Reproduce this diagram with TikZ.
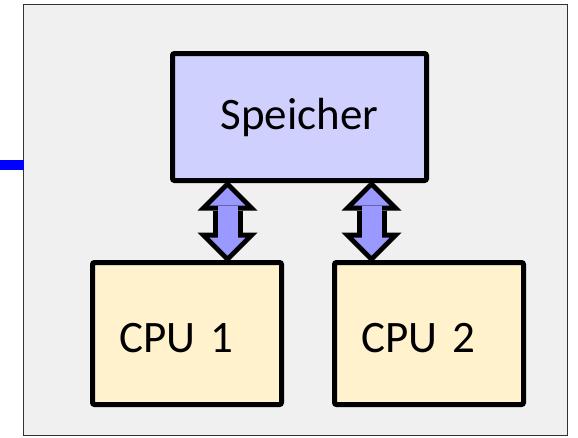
\documentclass[tikz,border=0pt]{standalone}
\usepackage{fontspec}
\setmainfont{Carlito}
\usetikzlibrary{arrows.meta,calc}

\definecolor{sysgray}{HTML}{F0F0F0}
\definecolor{memblue}{HTML}{D0D0FF}
\definecolor{busblue}{HTML}{9999FF}
\definecolor{cpuyellow}{HTML}{FFF2CC}

\tikzstyle{box}=[draw, line width=5pt, rounded corners=2pt, outer sep=0pt, font=\fontsize{45}{54}\selectfont]
\tikzstyle{mem}=[box, fill=memblue, minimum width=254pt, minimum height=127pt]
\tikzstyle{cpu}=[box, fill=cpuyellow, minimum height=142pt, text width=135pt, inner xsep=27pt, align=left, text height=37pt, text depth=0pt]
\tikzstyle{sys}=[draw=black!80, line width=1.2pt, fill=sysgray, outer sep=0pt, minimum width=544pt, minimum height=431pt]
\tikzstyle{busout}=[line width=30pt, {Triangle[length=30pt,width=60pt,line width=0pt]}-{Triangle[length=30pt,width=60pt,line width=0pt]}]
\tikzstyle{busin}=[line width=20pt, draw=busblue, {Triangle[length=18pt,width=36pt,line width=0pt]}-{Triangle[length=18pt,width=36pt,line width=0pt]}, shorten <=7pt, shorten >=7pt]
\tikzstyle{link}=[draw=blue, line width=10pt]

\begin{document}
\begin{tikzpicture}[x=1pt, y=-1pt]
    \useasboundingbox (0, 0) rectangle (578, 437);

    \node[sys]  (sys)  at (295.5, 220)   {};
    \node[mem]  (mem)  at (299.5, 117)   {Speicher};
    \node[cpu]  (cpu1) at (187, 333.5)   {CPU 1};
    \node[cpu]  (cpu2) at (429, 333.5)   {CPU 2};

    % bus to the outside
    \coordinate (ext) at (0, 165);
    \draw[link] (ext) -- (ext -| sys.west);

    % memory buses
    \coordinate (b1) at ($(mem.south)+(-72, 0)$);
    \coordinate (b2) at ($(mem.south)+(72, 0)$);
    \draw[busout] (b1) -- (b1 |- cpu1.north);
    \draw[busin]  (b1) -- (b1 |- cpu1.north);
    \draw[busout] (b2) -- (b2 |- cpu2.north);
    \draw[busin]  (b2) -- (b2 |- cpu2.north);
\end{tikzpicture}
\end{document}
